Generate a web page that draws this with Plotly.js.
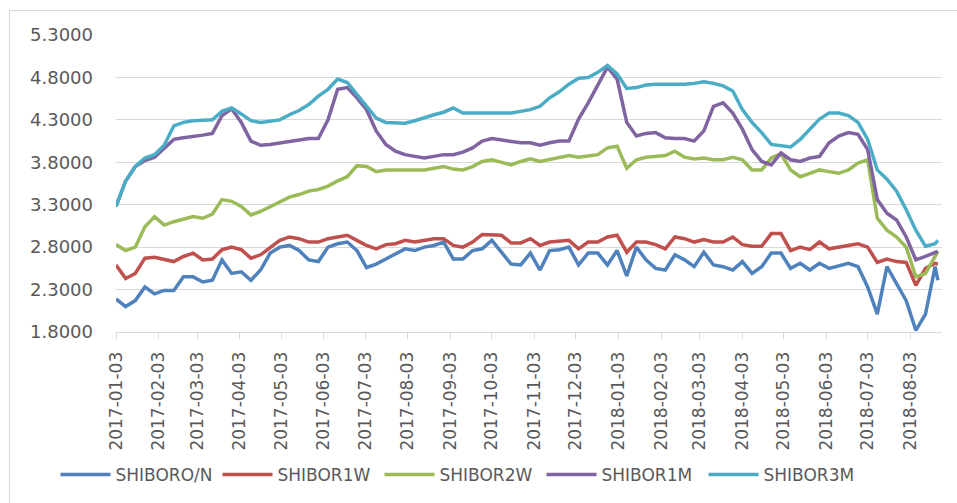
<!DOCTYPE html>
<html>
<head>
<meta charset="utf-8">
<script src="https://cdn.plot.ly/plotly-3.0.1.min.js"></script>
<style>
  html, body { margin: 0; padding: 0; background: #ffffff; }
  #chart { position: absolute; left: 0; top: 0; width: 957px; height: 503px; }
  #frame { position: absolute; left: 9px; top: 10px; width: 970px; height: 520px; border: 1px solid #d9d9d9; pointer-events: none; }
</style>
</head>
<body>
<div id="chart"></div>
<div id="frame"></div>
<script>
const dates = [
  '2017-01-03','2017-01-10','2017-01-17','2017-01-24','2017-01-31',
  '2017-02-07','2017-02-14','2017-02-21','2017-02-28',
  '2017-03-07','2017-03-14','2017-03-21','2017-03-28',
  '2017-04-04','2017-04-11','2017-04-18','2017-04-25',
  '2017-05-02','2017-05-09','2017-05-16','2017-05-23','2017-05-30',
  '2017-06-06','2017-06-13','2017-06-20','2017-06-27',
  '2017-07-04','2017-07-11','2017-07-18','2017-07-25',
  '2017-08-01','2017-08-08','2017-08-15','2017-08-22','2017-08-29',
  '2017-09-05','2017-09-12','2017-09-19','2017-09-26',
  '2017-10-03','2017-10-10','2017-10-17','2017-10-24','2017-10-31',
  '2017-11-07','2017-11-14','2017-11-21','2017-11-28',
  '2017-12-05','2017-12-12','2017-12-19','2017-12-26',
  '2018-01-02','2018-01-09','2018-01-16','2018-01-23','2018-01-30',
  '2018-02-06','2018-02-13','2018-02-20','2018-02-27',
  '2018-03-06','2018-03-13','2018-03-20','2018-03-27',
  '2018-04-03','2018-04-10','2018-04-17','2018-04-24',
  '2018-05-01','2018-05-08','2018-05-15','2018-05-22','2018-05-29',
  '2018-06-05','2018-06-12','2018-06-19','2018-06-26',
  '2018-07-03','2018-07-10','2018-07-17','2018-07-24','2018-07-31',
  '2018-08-07','2018-08-14','2018-08-21','2018-08-23'
];

const shiborON = [
  2.19,2.10,2.17,2.33,2.25,2.29,2.29,2.45,2.45,2.39,2.41,2.65,2.49,2.51,2.41,2.53,2.73,2.80,
  2.82,2.76,2.65,2.63,2.80,2.84,2.86,2.76,2.56,2.60,2.66,2.72,2.78,2.76,2.80,2.82,2.86,
  2.66,2.66,2.76,2.78,2.88,2.74,2.60,2.59,2.73,2.53,2.76,2.77,2.80,2.59,2.73,2.73,2.59,
  2.76,2.46,2.80,2.65,2.55,2.53,2.71,2.65,2.57,2.74,2.59,2.57,2.53,2.63,2.49,2.57,2.73,
  2.73,2.55,2.61,2.53,2.61,2.55,2.58,2.61,2.57,2.33,2.01,2.57,2.37,2.17,1.82,2.01,2.57,2.41
];
const shibor1W = [
  2.59,2.43,2.49,2.67,2.68,2.65,2.63,2.69,2.73,2.65,2.66,2.77,2.80,2.77,2.67,2.71,2.80,2.88,
  2.92,2.90,2.86,2.86,2.90,2.92,2.94,2.88,2.82,2.78,2.83,2.84,2.88,2.86,2.88,2.90,2.90,
  2.82,2.80,2.86,2.95,2.94,2.94,2.85,2.85,2.90,2.82,2.86,2.87,2.88,2.78,2.86,2.86,2.92,
  2.94,2.74,2.86,2.86,2.83,2.78,2.92,2.90,2.86,2.89,2.86,2.86,2.92,2.83,2.81,2.81,2.96,
  2.96,2.76,2.80,2.77,2.86,2.78,2.80,2.82,2.84,2.80,2.62,2.66,2.63,2.62,2.35,2.55,2.61,2.60
];
const shibor2W = [
  2.83,2.76,2.80,3.04,3.16,3.06,3.10,3.13,3.16,3.14,3.19,3.36,3.34,3.28,3.18,3.22,3.28,3.34,
  3.39,3.42,3.46,3.48,3.52,3.58,3.63,3.76,3.75,3.69,3.71,3.71,3.71,3.71,3.71,3.73,3.75,
  3.72,3.71,3.75,3.81,3.83,3.80,3.77,3.81,3.84,3.81,3.83,3.85,3.88,3.86,3.87,3.89,3.97,
  3.99,3.73,3.83,3.86,3.87,3.88,3.93,3.86,3.84,3.85,3.83,3.83,3.86,3.83,3.71,3.71,3.85,
  3.90,3.71,3.63,3.67,3.71,3.69,3.67,3.71,3.79,3.83,3.14,3.00,2.92,2.80,2.45,2.49,2.69,2.75
];
const shibor1M = [
  3.28,3.58,3.75,3.82,3.86,3.96,4.07,4.09,4.10,4.12,4.14,4.35,4.43,4.27,4.05,4.00,4.01,4.03,
  4.05,4.07,4.08,4.08,4.30,4.66,4.68,4.56,4.42,4.17,4.01,3.93,3.89,3.87,3.85,3.87,3.89,
  3.89,3.92,3.97,4.05,4.08,4.06,4.05,4.03,4.03,4.00,4.03,4.05,4.05,4.31,4.50,4.70,4.92,
  4.78,4.27,4.11,4.14,4.15,4.09,4.08,4.08,4.05,4.17,4.46,4.50,4.38,4.19,3.95,3.81,3.77,
  3.91,3.83,3.81,3.85,3.87,4.03,4.11,4.15,4.13,3.95,3.36,3.20,3.12,2.92,2.65,2.69,2.73,2.75
];
const shibor3M = [
  3.28,3.58,3.75,3.85,3.89,4.00,4.23,4.27,4.29,4.30,4.30,4.40,4.44,4.37,4.29,4.27,4.29,4.30,
  4.36,4.41,4.48,4.58,4.66,4.78,4.74,4.60,4.46,4.32,4.27,4.26,4.26,4.29,4.33,4.36,4.39,
  4.44,4.38,4.38,4.38,4.38,4.38,4.38,4.40,4.42,4.46,4.56,4.63,4.72,4.79,4.80,4.86,4.94,
  4.84,4.67,4.68,4.71,4.72,4.72,4.71,4.72,4.73,4.75,4.73,4.70,4.64,4.42,4.27,4.15,4.01,
  4.00,3.98,4.07,4.19,4.31,4.38,4.38,4.35,4.27,4.07,3.71,3.60,3.46,3.24,3.00,2.81,2.84,2.88
];

const seriesNames = ['SHIBORO/N','SHIBOR1W','SHIBOR2W','SHIBOR1M','SHIBOR3M'];
const seriesColors = ['#4f81bd','#c0504d','#9bbb59','#8064a2','#4bacc6'];
const seriesValues = [shiborON, shibor1W, shibor2W, shibor1M, shibor3M];

const tickDates = [
  '2017-01-03','2017-02-03','2017-03-03','2017-04-03','2017-05-03','2017-06-03',
  '2017-07-03','2017-08-03','2017-09-03','2017-10-03','2017-11-03','2017-12-03',
  '2018-01-03','2018-02-03','2018-03-03','2018-04-03','2018-05-03','2018-06-03',
  '2018-07-03','2018-08-03'
];
const yTicks = [1.8, 2.3, 2.8, 3.3, 3.8, 4.3, 4.8, 5.3];

const traces = seriesNames.map((name, k) => ({
  type: 'scatter',
  mode: 'lines',
  name: name,
  x: dates,
  y: seriesValues[k],
  line: { color: seriesColors[k], width: 3.5 }
}));

const textColor = '#595959';
const layout = {
  width: 957,
  height: 503,
  margin: { l: 116, r: 15, t: 35, b: 171 },
  paper_bgcolor: '#ffffff',
  plot_bgcolor: '#ffffff',
  font: { family: 'DejaVu Sans, sans-serif', size: 16, color: textColor },
  showlegend: true,
  legend: {
    orientation: 'h',
    xref: 'container',
    yref: 'container',
    x: 0.058, xanchor: 'left',
    y: 0.056, yanchor: 'middle',
    font: { family: 'DejaVu Sans, sans-serif', size: 17, color: textColor },
    itemwidth: 50,
    entrywidth: 97,
    entrywidthmode: 'pixels',
    traceorder: 'normal',
    bgcolor: 'rgba(0,0,0,0)'
  },
  xaxis: {
    type: 'date',
    range: ['2017-01-03', '2018-08-26'],
    tickvals: tickDates,
    ticktext: tickDates,
    tickangle: -90,
    showgrid: false,
    showline: true,
    linecolor: '#d9d9d9',
    linewidth: 1,
    ticks: 'outside',
    ticklen: 6,
    tickcolor: '#d9d9d9',
    ticklabelstandoff: 6,
    tickfont: { family: 'DejaVu Sans, sans-serif', size: 17, color: textColor },
    zeroline: false,
    fixedrange: true
  },
  yaxis: {
    range: [1.8, 5.3],
    tickvals: yTicks,
    tickformat: '.4f',
    showgrid: true,
    gridcolor: '#d9d9d9',
    gridwidth: 1,
    showline: false,
    zeroline: false,
    ticks: '',
    ticklabelstandoff: 22,
    tickfont: { family: 'DejaVu Sans, sans-serif', size: 18, color: textColor },
    fixedrange: true
  }
};

Plotly.newPlot('chart', traces, layout, { staticPlot: true, displayModeBar: false });
</script>
</body>
</html>
